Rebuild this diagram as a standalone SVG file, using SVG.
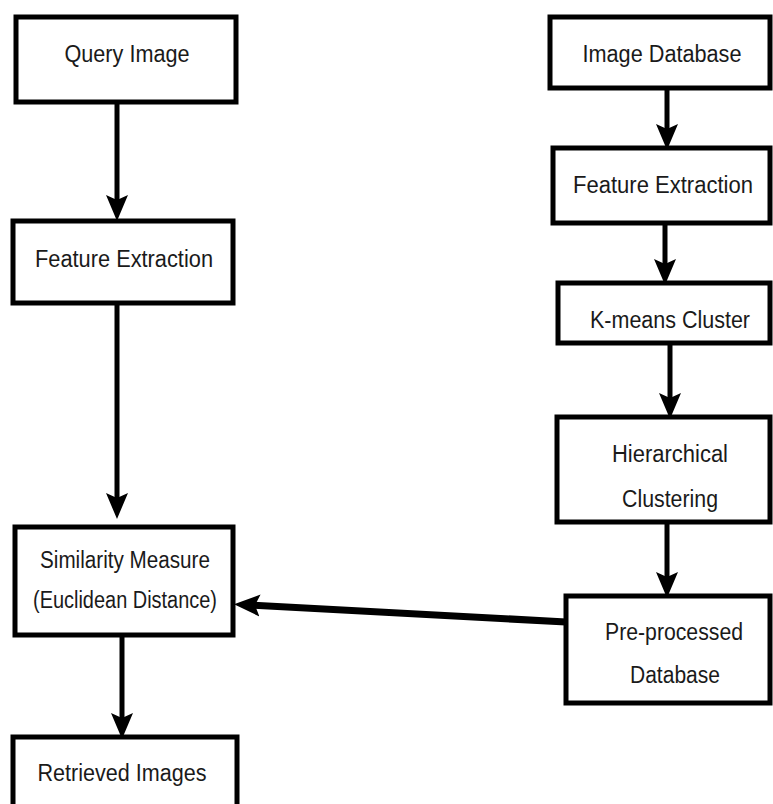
<svg xmlns="http://www.w3.org/2000/svg" width="773" height="804" viewBox="0 0 773 804">
<defs>
<style>
.box{fill:#fff;stroke:#000;stroke-width:5}
.lbl{font-family:"Liberation Sans",Arial,sans-serif;font-size:23px;fill:#1a1a1a;text-anchor:middle}
.conn{stroke:#000;stroke-width:5;fill:none;marker-end:url(#ah)}
</style>
<marker id="ah" markerUnits="userSpaceOnUse" markerWidth="26" markerHeight="26" viewBox="0 0 26 26" refX="10" refY="13" orient="auto">
<path d="M0,2 L26,13 L0,24 L5,13 Z" fill="#000"/>
</marker>
</defs>
<rect width="773" height="804" fill="#fff"/>
<g id="connectors">
<line class="conn" x1="117" y1="103" x2="117" y2="205"/>
<line class="conn" x1="117" y1="303" x2="117" y2="503"/>
<line class="conn" x1="122" y1="635" x2="122" y2="723"/>
<line class="conn" x1="667" y1="88" x2="667" y2="134"/>
<line class="conn" x1="665" y1="223" x2="665" y2="269"/>
<line class="conn" x1="670" y1="343" x2="670" y2="403"/>
<line class="conn" x1="667" y1="522" x2="667" y2="582"/>
<line class="conn" x1="566" y1="622" x2="250" y2="605" style="stroke-width:7"/>
</g>
<g id="query-image">
<rect class="box" x="16" y="17" width="220" height="85"/>
<text class="lbl" x="127" y="62" textLength="125" lengthAdjust="spacingAndGlyphs">Query Image</text>
</g>
<g id="feature-extraction-left">
<rect class="box" x="13" y="221" width="220" height="82"/>
<text class="lbl" x="124" y="267" textLength="178" lengthAdjust="spacingAndGlyphs">Feature Extraction</text>
</g>
<g id="similarity-measure">
<rect class="box" x="15" y="527" width="218" height="108"/>
<text class="lbl" x="125" y="568" textLength="170" lengthAdjust="spacingAndGlyphs">Similarity Measure</text>
<text class="lbl" x="125" y="608" textLength="184" lengthAdjust="spacingAndGlyphs">(Euclidean Distance)</text>
</g>
<g id="retrieved-images">
<rect class="box" x="13" y="737" width="224" height="80"/>
<text class="lbl" x="122" y="781" textLength="169" lengthAdjust="spacingAndGlyphs">Retrieved Images</text>
</g>
<g id="image-database">
<rect class="box" x="550" y="17" width="220" height="71"/>
<text class="lbl" x="662" y="62" textLength="159" lengthAdjust="spacingAndGlyphs">Image Database</text>
</g>
<g id="feature-extraction-right">
<rect class="box" x="553" y="148" width="217" height="75"/>
<text class="lbl" x="663" y="193" textLength="180" lengthAdjust="spacingAndGlyphs">Feature Extraction</text>
</g>
<g id="kmeans-cluster">
<rect class="box" x="558" y="283" width="212" height="60"/>
<text class="lbl" x="670" y="328" textLength="160" lengthAdjust="spacingAndGlyphs">K-means Cluster</text>
</g>
<g id="hierarchical-clustering">
<rect class="box" x="557" y="417" width="213" height="105"/>
<text class="lbl" x="670" y="462" textLength="116" lengthAdjust="spacingAndGlyphs">Hierarchical</text>
<text class="lbl" x="670" y="507" textLength="96" lengthAdjust="spacingAndGlyphs">Clustering</text>
</g>
<g id="preprocessed-database">
<rect class="box" x="566" y="596" width="204" height="107"/>
<text class="lbl" x="674" y="640" textLength="138" lengthAdjust="spacingAndGlyphs">Pre-processed</text>
<text class="lbl" x="675" y="683" textLength="90" lengthAdjust="spacingAndGlyphs">Database</text>
</g>
</svg>
